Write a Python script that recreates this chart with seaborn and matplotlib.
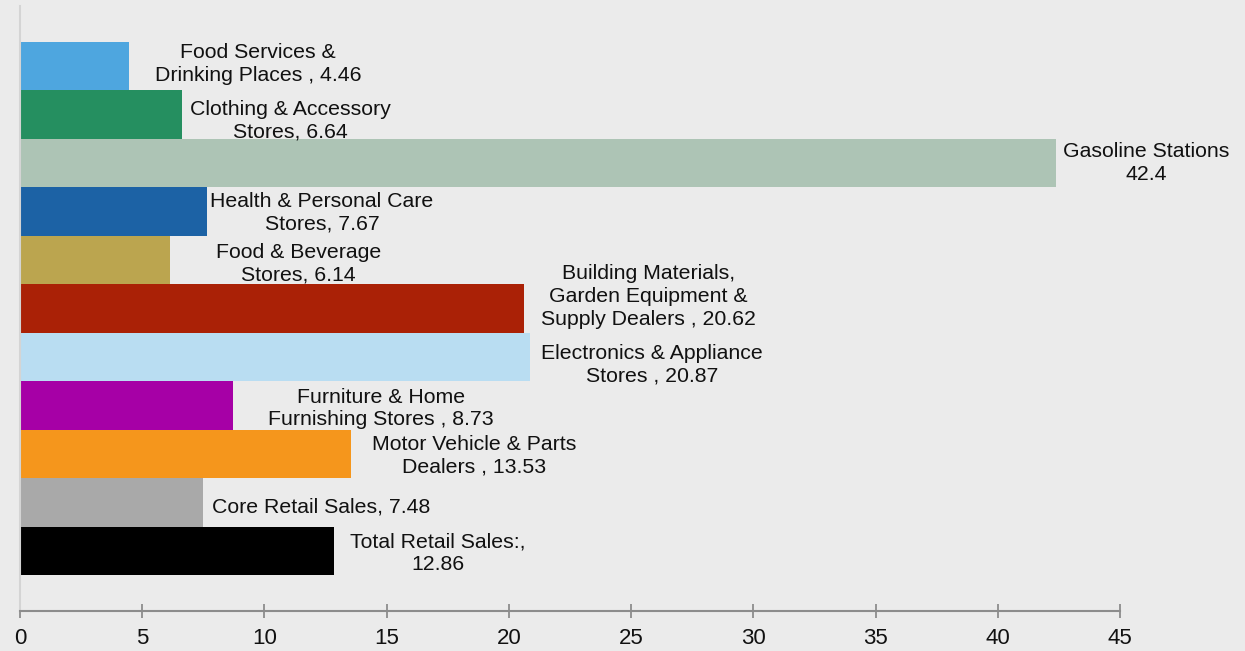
import matplotlib
matplotlib.use("Agg")
import matplotlib.pyplot as plt
import seaborn as sns
import pandas as pd

# ---- data ----
categories = [
    "Food Services & Drinking Places",
    "Clothing & Accessory Stores",
    "Gasoline Stations",
    "Health & Personal Care Stores",
    "Food & Beverage Stores",
    "Building Materials, Garden Equipment & Supply Dealers",
    "Electronics & Appliance Stores",
    "Furniture & Home Furnishing Stores",
    "Motor Vehicle & Parts Dealers",
    "Core Retail Sales",
    "Total Retail Sales",
]
values = [4.46, 6.64, 42.4, 7.67, 6.14, 20.62, 20.87, 8.73, 13.53, 7.48, 12.86]
label_templates = [
    "Food Services &\nDrinking Places , {}",
    "Clothing & Accessory\nStores, {}",
    "Gasoline Stations\n{}",
    "Health & Personal Care\nStores, {}",
    "Food & Beverage\nStores, {}",
    "Building Materials,\nGarden Equipment &\nSupply Dealers , {}",
    "Electronics & Appliance\nStores , {}",
    "Furniture & Home\nFurnishing Stores , {}",
    "Motor Vehicle & Parts\nDealers , {}",
    "Core Retail Sales, {}",
    "Total Retail Sales:,\n{}",
]
x_ticks = [0, 5, 10, 15, 20, 25, 30, 35, 40, 45]

# ---- style ----
colors = ["#4EA6DF", "#258F60", "#ADC4B5", "#1C62A5", "#BBA54F", "#AA2106",
          "#B9DDF2", "#A600A6", "#F5961C", "#A9A9A9", "#000000"]
label_gap_px = [26, 8, 7, 3, 46, 17, 11, 35, 21, 9, 16]
label_dy_px = [2, -6, 0, -1, -4, 12, -8, -3, -2, -5, -2]

sns.set_theme(style="white")
plt.rcParams["font.family"] = ["Liberation Sans", "DejaVu Sans"]

df = pd.DataFrame({"category": categories, "value": values})

bg = "#EBEBEB"
fig = plt.figure(figsize=(12.45, 6.51), dpi=100, facecolor=bg)
ax = fig.add_axes([20 / 1245, 1 - 611 / 651, 1100 / 1245, 605 / 651])
ax.set_facecolor(bg)

sns.barplot(data=df, y="category", x="value", hue="category",
            palette=colors, order=categories, hue_order=categories,
            width=1.0, legend=False, saturation=1, ax=ax, orient="h",
            linewidth=0, edgecolor="none")

ax.set_xlim(0, 45)
ax.set_ylim(11.24, -1.24)
ax.set_xticks(x_ticks)
ax.set_xticklabels([str(t) for t in x_ticks], fontsize=16, color="#111111")
ax.set_yticks([])
ax.set_xlabel("")
ax.set_ylabel("")

for s in ["top", "right"]:
    ax.spines[s].set_visible(False)
ax.spines["bottom"].set_color("#8C8C8C")
ax.spines["bottom"].set_linewidth(1.5)
ax.spines["left"].set_color("#D4D4D4")
ax.spines["left"].set_linewidth(1.5)
ax.tick_params(axis="x", direction="inout", length=10, width=1.3,
               color="#8C8C8C", pad=7, bottom=True)

for i, (tpl, v) in enumerate(zip(label_templates, values)):
    ax.annotate(tpl.format(v), xy=(v, i),
                xytext=(label_gap_px[i], label_dy_px[i]),
                textcoords="offset pixels", ha="left", va="center",
                multialignment="center", fontsize=15.3, color="#111111",
                linespacing=1.25)

fig.savefig("out.png", dpi=100, facecolor=bg)
